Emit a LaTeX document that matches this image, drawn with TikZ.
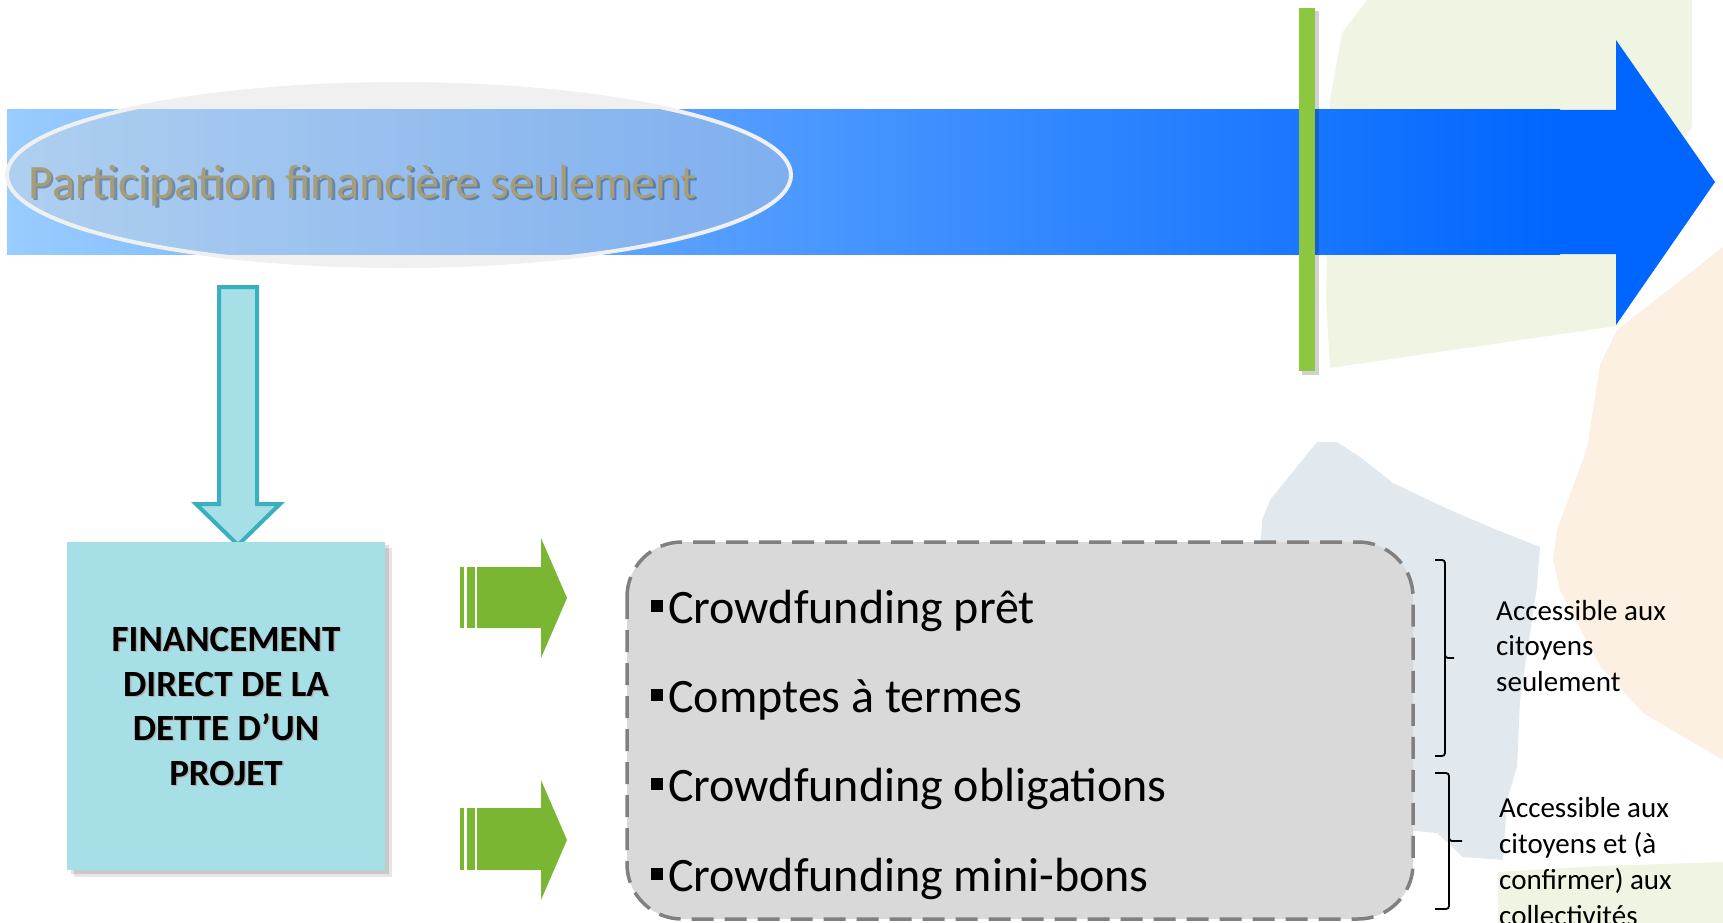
\documentclass[tikz,border=0pt]{standalone}
\usepackage{fontspec}
\setmainfont{Carlito}
\definecolor{bluelight}{RGB}{153,204,255}
\definecolor{bluedark}{RGB}{0,102,255}
\definecolor{greenbar}{RGB}{141,198,63}
\definecolor{greenarrow}{RGB}{122,182,50}
\definecolor{tealfill}{RGB}{166,223,230}
\definecolor{tealedge}{RGB}{58,175,191}
\definecolor{boxgray}{RGB}{217,217,217}
\definecolor{dashgray}{RGB}{128,128,128}
\definecolor{titlecol}{RGB}{166,158,122}
\definecolor{ellfill}{RGB}{214,214,214}
\definecolor{elledge}{RGB}{240,240,240}
\definecolor{blobgreen}{RGB}{240,244,227}
\definecolor{bloborange}{RGB}{251,240,225}
\definecolor{blobblue}{RGB}{225,232,238}
\newcommand{\sqbul}{\rule[11pt]{12pt}{12pt}\hspace{5pt}}
\tikzset{
  titletext/.style={inner sep=0pt, font=\fontsize{48}{58}\selectfont},
  boxtext/.style={inner sep=0pt, anchor=base, font=\bfseries\fontsize{37}{44}\selectfont},
  itemtext/.style={inner sep=0pt, anchor=base west, font=\fontsize{48}{57}\selectfont},
  sidetext/.style={inner sep=0pt, anchor=base west, font=\fontsize{29}{35}\selectfont},
  bracestyle/.style={line width=1.8pt, rounded corners=3pt},
  greenarr/.style={fill=greenarrow},
}
\begin{document}
\begin{tikzpicture}[x=1pt,y=-1pt]
\useasboundingbox (0,0) rectangle (1723,923);
\clip (0,0) rectangle (1723,923);
% background blobs
\fill[blobgreen] (1367,0) -- (1692,0) -- (1692,127) -- (1683,140) -- (1650,260) -- (1616,326) -- (1330,368) -- (1326,300) -- (1330,100) -- (1342,33) -- cycle;
\fill[bloborange] (1723,247) -- (1617,330) -- (1600,365) -- (1587,448) -- (1557,530) -- (1553,560) -- (1560,590) -- (1600,666) -- (1643,713) -- (1723,760) -- cycle;
\fill[blobblue] (1317,442) -- (1337,442) -- (1360,457) -- (1393,483) -- (1450,510) -- (1497,530) -- (1540,547) -- (1537,587) -- (1527,653) -- (1520,700) -- (1517,767) -- (1507,800) -- (1503,860) -- (1463,857) -- (1437,833) -- (1405,830) -- (1260,560) -- (1262,520) -- (1270,500) -- cycle;
\fill[blobgreen] (1498,872) -- (1600,866) -- (1723,862) -- (1723,923) -- (1498,923) -- cycle;
% blue arrow
\shade[left color=bluelight, right color=bluedark] (7,110) rectangle (1560,254);
\fill[bluedark] (1559,110) -- (1616,110) -- (1616,40) -- (1715,182) -- (1616,325) -- (1616,254) -- (1559,254) -- cycle;
% ellipse
\draw[line width=4pt, draw=elledge, fill=ellfill, fill opacity=0.37] (399,175) ellipse [x radius=392, y radius=91];
\node[titletext, text=black, opacity=0.3, anchor=base west] (titleshadow) at (30.5,200.5) {Participation financière seulement};
\node[titletext, text=titlecol, anchor=base west] (title) at (28,198) {Participation financière seulement};
% green vertical bar
\fill[black, opacity=0.18] (1302,11) rectangle (1319,375);
\fill[greenbar] (1299,8) rectangle (1315,371);
% teal down arrow
\filldraw[fill=tealfill, draw=tealedge, line width=4pt, miter limit=10] (219,287) -- (257,287) -- (257,504) -- (280,504) -- (238,545) -- (196,504) -- (219,504) -- cycle;
% teal box
\fill[black, opacity=0.10] (74,548) rectangle (392,877);
\fill[black, opacity=0.12] (71,545) rectangle (389,874);
\fill[tealfill] (67,542) rectangle (385,870);
\node[boxtext, text=black!30] (b1s) at (227.5,652.5) {FINANCEMENT};
\node[boxtext, text=black!30] (b2s) at (227.5,697.5) {DIRECT DE LA};
\node[boxtext, text=black!30] (b3s) at (227.5,741.5) {DETTE D’UN};
\node[boxtext, text=black!30] (b4s) at (227.5,786.5) {PROJET};
\node[boxtext] (b1) at (226,651) {FINANCEMENT};
\node[boxtext] (b2) at (226,696) {DIRECT DE LA};
\node[boxtext] (b3) at (226,740) {DETTE D’UN};
\node[boxtext] (b4) at (226,785) {PROJET};
% green striped arrows
\fill[greenarr] (460,567) rectangle (464,628);
\fill[greenarr] (467,567) rectangle (475,628);
\fill[greenarr] (477,567) -- (541,567) -- (541,538) -- (567,598) -- (541,658) -- (541,628) -- (477,628) -- cycle;
\fill[greenarr] (460,808) rectangle (464,870);
\fill[greenarr] (467,808) rectangle (475,870);
\fill[greenarr] (477,808) -- (541,808) -- (541,780) -- (567,840) -- (541,900) -- (541,870) -- (477,870) -- cycle;
% dashed box
\draw[fill=boxgray, draw=dashgray, line width=3.5pt, dash pattern=on 22pt off 11pt, rounded corners=55pt] (627,542) rectangle (1413,919);
\node[itemtext] (i1) at (651,623) {\sqbul Crowdfunding prêt};
\node[itemtext] (i2) at (651,712) {\sqbul Comptes à termes};
\node[itemtext] (i3) at (651,801) {\sqbul Crowdfunding obligations};
\node[itemtext] (i4) at (651,891) {\sqbul Crowdfunding mini-bons};
% braces
\draw[bracestyle] (1435,560) -- (1445,560) -- (1445,658) -- (1454,658);
\draw[bracestyle] (1445,650) -- (1445,756) -- (1435,756);
\draw[bracestyle] (1435,773) -- (1449,773) -- (1449,841) -- (1462,841);
\draw[bracestyle] (1449,835) -- (1449,909) -- (1435,909);
% side texts
\node[sidetext] (s1) at (1496,620) {Accessible aux};
\node[sidetext] (s2) at (1496,655) {citoyens};
\node[sidetext] (s3) at (1496,691) {seulement};
\node[sidetext] (t1) at (1499,817) {Accessible aux};
\node[sidetext] (t2) at (1499,853) {citoyens et (à};
\node[sidetext] (t3) at (1499,889) {confirmer) aux};
\node[sidetext] (t4) at (1499,925) {collectivités};
\end{tikzpicture}
\end{document}
